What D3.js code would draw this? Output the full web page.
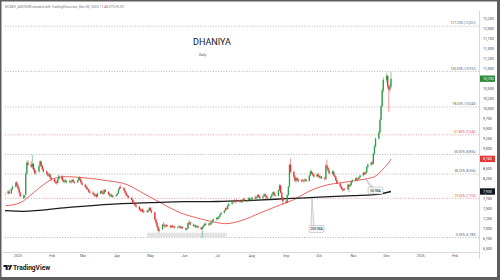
<!DOCTYPE html>
<html>
<head>
<meta charset="utf-8">
<script src="https://cdn.jsdelivr.net/npm/d3@7"></script>
<style>
html, body { margin: 0; padding: 0; background: #fff; }
svg { display: block; font-family: Roboto, "Noto Sans", sans-serif; }
</style>
</head>
<body>
<svg id="chart" width="500" height="280"></svg>
<script>
// daily candles: date, open, high, low, close
const candles = [
["2024-12-20",7860,7920,7800,7890],["2024-12-23",7890,7960,7850,7930],["2024-12-24",7930,7980,7860,7880],
["2024-12-26",7880,8020,7870,8000],["2024-12-27",8000,8080,7960,8050],["2024-12-30",8050,8180,8030,8150],
["2024-12-31",8150,8200,8060,8080],["2025-01-01",8080,8120,7980,8000],["2025-01-02",8000,8040,7880,7900],
["2025-01-03",7900,7930,7790,7810],["2025-01-06",7810,7860,7740,7780],["2025-01-07",7780,7850,7760,7830],
["2025-01-08",7850,8420,7840,8380],["2025-01-09",8380,8700,8350,8650],["2025-01-10",8650,8720,8560,8600],
["2025-01-13",8600,8690,8520,8550],["2025-01-14",8550,8850,8500,8620],["2025-01-15",8620,8640,8450,8480],
["2025-01-16",8480,8520,8360,8400],["2025-01-17",8400,8460,8340,8430],["2025-01-20",8430,8600,8400,8560],
["2025-01-21",8560,8720,8540,8680],["2025-01-22",8680,8700,8560,8580],["2025-01-23",8580,8600,8460,8490],
["2025-01-24",8490,8520,8400,8430],["2025-01-27",8430,8460,8340,8380],["2025-01-28",8380,8420,8300,8330],
["2025-01-29",8330,8400,8290,8360],["2025-01-30",8360,8380,8250,8280],["2025-01-31",8280,8310,8200,8230],
["2025-02-03",8230,8270,8150,8180],["2025-02-04",8180,8230,8120,8160],["2025-02-05",8160,8200,8100,8140],
["2025-02-06",8140,8260,8130,8240],["2025-02-07",8240,8360,8220,8320],["2025-02-10",8320,8340,8200,8220],
["2025-02-11",8220,8260,8150,8180],["2025-02-12",8180,8230,8140,8200],["2025-02-13",8200,8240,8150,8170],
["2025-02-14",8170,8220,8130,8190],["2025-02-17",8190,8230,8140,8160],["2025-02-18",8160,8210,8120,8180],
["2025-02-19",8180,8240,8160,8220],["2025-02-20",8220,8250,8150,8170],["2025-02-21",8170,8200,8120,8150],
["2025-02-24",8150,8230,8140,8210],["2025-02-25",8210,8300,8190,8280],["2025-02-26",8280,8310,8200,8230],
["2025-02-27",8230,8250,8130,8150],["2025-02-28",8150,8180,8080,8100],["2025-03-03",8100,8130,8020,8050],
["2025-03-04",8050,8080,7980,8010],["2025-03-05",8010,8060,7960,7980],["2025-03-06",7980,8000,7900,7930],
["2025-03-07",7930,7960,7860,7900],["2025-03-10",7900,7940,7840,7870],["2025-03-11",7870,7900,7800,7830],
["2025-03-12",7830,7880,7790,7850],["2025-03-13",7850,7870,7780,7800],["2025-03-14",7800,7900,7790,7880],
["2025-03-17",7880,7960,7860,7940],["2025-03-18",7940,7980,7880,7900],["2025-03-19",7900,7930,7840,7870],
["2025-03-20",7870,7990,7860,7970],["2025-03-21",7970,8000,7900,7920],["2025-03-24",7920,7940,7840,7860],
["2025-03-25",7860,7890,7800,7830],["2025-03-26",7830,7880,7790,7850],["2025-03-27",7850,7870,7780,7800],
["2025-03-28",7800,7840,7770,7820],["2025-03-31",7820,7860,7790,7840],["2025-04-01",7840,7900,7820,7880],
["2025-04-02",7880,8000,7870,7980],["2025-04-03",7980,8060,7960,8040],["2025-04-04",8040,8100,8000,8020],
["2025-04-07",8020,8040,7940,7960],["2025-04-08",7960,7990,7880,7900],["2025-04-09",7900,7930,7820,7840],
["2025-04-10",7840,7880,7790,7810],["2025-04-11",7810,7840,7750,7770],["2025-04-14",7770,7800,7700,7720],
["2025-04-15",7720,7750,7640,7660],["2025-04-16",7660,7700,7600,7630],["2025-04-17",7630,7660,7560,7580],
["2025-04-18",7580,7620,7520,7550],["2025-04-21",7550,7570,7460,7480],["2025-04-22",7480,7520,7420,7450],
["2025-04-23",7450,7500,7410,7480],["2025-04-24",7480,7510,7400,7420],["2025-04-25",7420,7460,7380,7440],
["2025-04-28",7440,7480,7390,7420],["2025-04-29",7420,7470,7400,7460],["2025-04-30",7460,7540,7440,7520],
["2025-05-01",7520,7550,7430,7450],["2025-05-02",7450,7480,7380,7410],["2025-05-05",7410,7420,7200,7230],
["2025-05-06",7230,7260,7120,7150],["2025-05-07",7150,7170,7020,7050],["2025-05-08",7050,7080,6920,6950],
["2025-05-09",6950,7010,6900,6980],["2025-05-12",6980,7120,6970,7100],["2025-05-13",7100,7170,7060,7080],
["2025-05-14",7080,7120,7020,7060],["2025-05-15",7060,7110,7030,7090],["2025-05-16",7090,7120,7040,7060],
["2025-05-19",7060,7100,7010,7040],["2025-05-20",7040,7090,7010,7070],["2025-05-21",7070,7100,7020,7040],
["2025-05-22",7040,7080,7000,7050],["2025-05-23",7050,7080,7010,7030],["2025-05-26",7030,7070,6990,7050],
["2025-05-27",7050,7090,7020,7060],["2025-05-28",7060,7080,7000,7020],["2025-05-29",7020,7060,6990,7040],
["2025-05-30",7040,7070,7000,7010],["2025-06-02",7010,7030,6960,6980],["2025-06-03",6980,7020,6950,7000],
["2025-06-04",7000,7160,6990,7140],["2025-06-05",7140,7220,7100,7160],["2025-06-06",7160,7180,7080,7100],
["2025-06-09",7100,7130,7050,7070],["2025-06-10",7070,7110,7030,7080],["2025-06-11",7080,7100,7020,7040],
["2025-06-12",7040,7080,7010,7060],["2025-06-13",7060,7090,7010,7030],["2025-06-16",7030,7050,6970,6990],
["2025-06-17",6990,7060,6780,7040],["2025-06-18",7040,7100,7010,7080],["2025-06-19",7080,7140,7050,7120],
["2025-06-20",7120,7160,7070,7100],["2025-06-23",7100,7150,7060,7130],["2025-06-24",7130,7170,7080,7110],
["2025-06-25",7110,7160,7090,7150],["2025-06-26",7150,7220,7130,7200],["2025-06-27",7200,7260,7180,7240],
["2025-06-30",7240,7290,7200,7270],["2025-07-01",7270,7310,7220,7250],["2025-07-02",7250,7320,7240,7300],
["2025-07-03",7300,7380,7290,7360],["2025-07-04",7360,7420,7340,7400],["2025-07-07",7400,7470,7380,7450],
["2025-07-08",7450,7530,7430,7510],["2025-07-09",7510,7550,7460,7490],["2025-07-10",7490,7600,7480,7580],
["2025-07-11",7580,7640,7550,7620],["2025-07-14",7620,7680,7590,7660],["2025-07-15",7660,7720,7630,7690],
["2025-07-16",7690,7740,7650,7670],["2025-07-17",7670,7710,7630,7700],["2025-07-18",7700,7750,7660,7680],
["2025-07-21",7680,7720,7640,7710],["2025-07-22",7710,7740,7650,7670],["2025-07-23",7670,7700,7630,7690],
["2025-07-24",7690,7760,7670,7740],["2025-07-25",7740,7770,7680,7700],["2025-07-28",7700,7730,7660,7720],
["2025-07-29",7720,7780,7700,7760],["2025-07-30",7760,7790,7700,7720],["2025-07-31",7720,7750,7680,7730],
["2025-08-01",7730,7800,7710,7780],["2025-08-04",7780,7830,7740,7760],["2025-08-05",7760,7800,7720,7790],
["2025-08-06",7790,7860,7770,7840],["2025-08-07",7840,7870,7770,7800],["2025-08-08",7800,7830,7740,7770],
["2025-08-11",7770,7820,7750,7810],["2025-08-12",7810,7880,7790,7860],["2025-08-13",7860,7890,7800,7820],
["2025-08-14",7820,7850,7750,7780],["2025-08-15",7780,7810,7730,7760],["2025-08-18",7760,7820,7740,7800],
["2025-08-19",7800,7880,7780,7860],["2025-08-20",7860,7930,7840,7910],["2025-08-21",7910,7940,7820,7840],
["2025-08-22",7840,7880,7790,7820],["2025-08-25",7820,7980,7810,7960],["2025-08-26",7960,8120,7940,8080],
["2025-08-27",8080,8100,7880,7900],["2025-08-28",7900,7920,7750,7780],["2025-08-29",7780,7800,7600,7680],
["2025-09-01",7680,7720,7620,7650],["2025-09-02",7650,7860,7640,7840],["2025-09-03",7840,8070,7820,8050],
["2025-09-04",8050,8620,8040,8600],["2025-09-05",8600,8760,8380,8420],["2025-09-08",8420,8450,8250,8300],
["2025-09-09",8300,8340,8160,8200],["2025-09-10",8200,8290,8150,8260],["2025-09-11",8260,8300,8180,8220],
["2025-09-12",8220,8260,8160,8190],["2025-09-15",8190,8240,8150,8210],["2025-09-16",8210,8250,8170,8190],
["2025-09-17",8190,8230,8150,8200],["2025-09-18",8200,8260,8170,8230],["2025-09-19",8230,8250,8170,8190],
["2025-09-22",8190,8350,8180,8330],["2025-09-23",8330,8480,8310,8430],["2025-09-24",8430,8460,8360,8380],
["2025-09-25",8380,8420,8320,8350],["2025-09-26",8350,8390,8280,8300],["2025-09-29",8300,8380,8290,8360],
["2025-09-30",8360,8400,8300,8320],["2025-10-01",8320,8340,8260,8280],["2025-10-02",8280,8330,8250,8300],
["2025-10-03",8300,8320,8240,8260],["2025-10-06",8260,8300,8200,8240],["2025-10-07",8240,8620,8230,8580],
["2025-10-08",8580,8730,8480,8520],["2025-10-09",8520,8550,8420,8450],["2025-10-10",8450,8480,8360,8380],
["2025-10-13",8380,8460,8350,8430],["2025-10-14",8430,8450,8310,8330],["2025-10-15",8330,8380,8280,8300],
["2025-10-16",8300,8320,8190,8210],["2025-10-17",8210,8230,8110,8130],["2025-10-20",8130,8150,8040,8060],
["2025-10-21",8060,8080,7980,8000],["2025-10-22",8000,8040,7930,7970],["2025-10-23",7970,8010,7940,7990],
["2025-10-24",7990,8020,7950,7980],["2025-10-27",7980,8120,7970,8100],["2025-10-28",8100,8130,7920,8060],
["2025-10-29",8060,8120,8040,8090],["2025-10-30",8090,8200,8080,8180],["2025-10-31",8180,8240,8150,8210],
["2025-11-03",8210,8280,8190,8260],["2025-11-04",8260,8300,8200,8230],["2025-11-05",8230,8270,8180,8250],
["2025-11-06",8250,8310,8230,8290],["2025-11-07",8290,8350,8260,8330],["2025-11-10",8330,8420,8310,8400],
["2025-11-11",8400,8430,8340,8370],["2025-11-12",8370,8420,8350,8400],["2025-11-13",8400,8560,8390,8540],
["2025-11-14",8540,8640,8510,8600],["2025-11-17",8600,8680,8560,8650],["2025-11-18",8650,8700,8590,8620],
["2025-11-19",8620,8900,8610,8870],["2025-11-20",8870,9100,8850,9050],["2025-11-21",9050,9280,9030,9250],
["2025-11-24",9250,9450,9230,9400],["2025-11-25",9400,9760,9380,9720],["2025-11-26",9720,10100,9700,10060],
["2025-11-27",10060,10500,10040,10450],["2025-11-28",10450,10780,10400,10720],["2025-12-01",10720,10900,10650,10820],
["2025-12-02",10820,10840,10500,10560],["2025-12-03",10560,10600,9920,10480],["2025-12-04",10480,10620,10420,10550],
["2025-12-05",10550,10932,10520,10750]
];

// moving averages
const ma50 = [
["2024-12-21",7575],["2025-01-03",7650],["2025-01-15",7900],["2025-01-24",8100],["2025-02-02",8250],
["2025-02-14",8300],["2025-03-01",8275],["2025-03-23",8200],["2025-04-10",8100],["2025-04-22",7925],
["2025-05-10",7650],["2025-05-28",7400],["2025-06-15",7250],["2025-07-01",7150],["2025-07-08",7125],
["2025-07-22",7200],["2025-08-09",7400],["2025-08-27",7600],["2025-09-08",7725],["2025-09-21",7925],
["2025-10-09",8100],["2025-10-21",8150],["2025-11-08",8225],["2025-11-20",8300],["2025-11-29",8525],
["2025-12-03",8650],["2025-12-05",8745]
];
const ma200 = [
["2024-12-20",7450],["2025-01-06",7435],["2025-02-14",7525],["2025-04-05",7625],["2025-05-01",7650],
["2025-06-01",7675],["2025-07-01",7680],["2025-08-01",7710],["2025-09-01",7750],["2025-10-01",7790],
["2025-11-01",7825],["2025-11-20",7850],["2025-12-05",7930]
];

// fibonacci retracement drawn between the swing low and the swing high
const fibLow = 6780;
const fibHigh = 10932;
const fibRatios = [0, 0.236, 0.382, 0.5, 0.618, 0.786, 1, 1.272];
const fibRedRatios = [0.236, 0.618];

// shaded support zone under the June low
const zone = {from: "2025-04-28", to: "2025-07-09", lo: 6790, hi: 6900};

const priceTicks = d3.range(6500, 12251, 250);
const monthTicks = d3.timeMonth.range(new Date(2025, 0, 1), new Date(2026, 1, 2));

const parse = d3.timeParse("%Y-%m-%d");
const fmt = d3.format(",.0f");

const svg = d3.select("#chart");
const W = 500, H = 280;
const plotL = 5, plotR = 479, plotT = 11, plotB = 252;

// outer frame
svg.append("rect").attr("width", W).attr("height", H).attr("fill", "#5d5d5d");
svg.append("rect").attr("x", 1.5).attr("y", 1.5).attr("width", W - 4.5).attr("height", H - 4.5).attr("fill", "#fff");

const x = d3.scaleTime().domain([new Date(2025, 0, 1), new Date(2026, 1, 1)]).range([18, 455]);
const y = d3.scaleLinear().domain([6500, 12250]).range([248.7, 18.7]);

svg.append("defs").append("clipPath").attr("id", "plot")
    .append("rect").attr("x", plotL).attr("y", plotT).attr("width", plotR - plotL).attr("height", plotB - plotT);

// header
svg.append("text").attr("x", 5).attr("y", 7.5).attr("font-size", 3.4).attr("fill", "#777")
    .text("NCDEX_ADVISOR created with TradingView.com, Dec 05, 2025 11:48 UTC+5:30");

// axes separators
svg.append("line").attr("x1", plotR + 0.5).attr("x2", plotR + 0.5).attr("y1", plotT).attr("y2", 259)
    .attr("stroke", "#cfcfcf").attr("stroke-width", 0.8);
svg.append("line").attr("x1", 1.5).attr("x2", plotR + 0.5).attr("y1", plotB + 0.5).attr("y2", plotB + 0.5)
    .attr("stroke", "#cfcfcf").attr("stroke-width", 0.8);

const plot = svg.append("g").attr("clip-path", "url(#plot)");

// title
svg.append("text").attr("x", 212).attr("y", 45).attr("text-anchor", "middle")
    .attr("font-size", 9).attr("fill", "#131722").text("DHANIYA");
svg.append("text").attr("x", 199).attr("y", 55.5).attr("font-size", 3.4).attr("fill", "#555").text("Daily");

// support zone
plot.append("rect")
    .attr("x", x(parse(zone.from))).attr("width", x(parse(zone.to)) - x(parse(zone.from)))
    .attr("y", y(zone.hi)).attr("height", y(zone.lo) - y(zone.hi))
    .attr("fill", "#dcdcdc").attr("opacity", 0.8);

// fib levels
const fibs = fibRatios.map(r => ({r, v: fibLow + r * (fibHigh - fibLow)}));
plot.selectAll(".fib").data(fibs).join("line")
    .attr("x1", plotL).attr("x2", plotR)
    .attr("y1", d => y(d.v)).attr("y2", d => y(d.v))
    .attr("stroke", d => fibRedRatios.includes(d.r) ? "#e57373" : "#9a9a9a")
    .attr("stroke-width", 0.7).attr("stroke-dasharray", "1,1.6");
svg.selectAll(".fibLabel").data(fibs).join("text")
    .attr("x", 476).attr("y", d => y(d.v) - 1.8).attr("text-anchor", "end")
    .attr("font-size", 3.3)
    .attr("fill", d => fibRedRatios.includes(d.r) ? "#e05555" : "#666")
    .text(d => `${(d.r * 100).toFixed(2)}% (${fmt(d.v)})`);

// moving averages
const line = d3.line().x(d => x(parse(d[0]))).y(d => y(d[1])).curve(d3.curveMonotoneX);
plot.append("path").attr("d", line(ma50)).attr("fill", "none").attr("stroke", "#e53935").attr("stroke-width", 0.8);
plot.append("path").attr("d", line(ma200)).attr("fill", "none").attr("stroke", "#1c1c1c").attr("stroke-width", 1.3);

// candles
const up = "#2f9e44", down = "#e03131";
const bars = plot.selectAll(".c").data(candles).join("g");
bars.append("line")
    .attr("x1", d => x(parse(d[0]))).attr("x2", d => x(parse(d[0])))
    .attr("y1", d => y(d[2])).attr("y2", d => y(d[3]))
    .attr("stroke", d => d[4] >= d[1] ? up : down).attr("stroke-width", 0.5);
bars.append("rect")
    .attr("x", d => x(parse(d[0])) - 0.65).attr("width", 1.3)
    .attr("y", d => y(Math.max(d[1], d[4])))
    .attr("height", d => Math.max(0.5, Math.abs(y(d[1]) - y(d[4]))))
    .attr("fill", d => d[4] >= d[1] ? up : down);

// callouts
function callout(tip, bx, by, bw, label) {
  svg.append("path")
    .attr("d", `M${tip[0]},${tip[1]} L${bx + 2},${by} L${bx + 5},${by} Z`)
    .attr("fill", "#f2f2f2").attr("stroke", "#888").attr("stroke-width", 0.4);
  svg.append("rect").attr("x", bx).attr("y", by).attr("width", bw).attr("height", 7).attr("rx", 1.2)
    .attr("fill", "#f4f4f4").attr("stroke", "#999").attr("stroke-width", 0.4);
  svg.append("text").attr("x", bx + bw / 2).attr("y", by + 4.9).attr("text-anchor", "middle")
    .attr("font-size", 3.6).attr("fill", "#222").text(label);
}
callout([366, y(8240)], 368, 187, 15, "50 MA");
callout([312, y(7768)], 309, 225.5, 15, "200 MA");

// price axis labels with tags
const last = candles[candles.length - 1];
const tags = [
  {v: last[4], fill: "#2e8b3e"},
  {v: ma50[ma50.length - 1][1], fill: "#e53935"},
  {v: ma200[ma200.length - 1][1], fill: "#131722"}
];
svg.selectAll(".pt").data(priceTicks.filter(p => tags.every(t => Math.abs(y(p) - y(t.v)) > 5)))
  .join("text")
  .attr("x", 483).attr("y", d => y(d) + 1.3).attr("font-size", 3.6).attr("fill", "#444")
  .text(d => fmt(d));
tags.forEach(t => {
  svg.append("rect").attr("x", 480).attr("y", y(t.v) - 3.2).attr("width", 15).attr("height", 6.4)
    .attr("fill", t.fill);
  svg.append("text").attr("x", 483).attr("y", y(t.v) + 1.3).attr("font-size", 3.6).attr("fill", "#fff")
    .text(fmt(t.v));
});

// time axis labels
svg.selectAll(".mt").data(monthTicks).join("text")
  .attr("x", d => x(d)).attr("y", 257).attr("text-anchor", "middle")
  .attr("font-size", 3.5).attr("fill", "#555")
  .text(d => d.getMonth() === 0 ? d3.timeFormat("%Y")(d) : d3.timeFormat("%b")(d));

// TradingView logo
const logo = svg.append("g").attr("fill", "#131722");
logo.append("path").attr("d", "M3.5,265 h4.2 v5 h-2 v-3 h-2.2 z");
logo.append("circle").attr("cx", 8.9).attr("cy", 266).attr("r", 0.9);
logo.append("path").attr("d", "M8.2,270 L10.3,265 L12.2,265 L10.1,270 z");
svg.append("text").attr("x", 13).attr("y", 269.8).attr("font-size", 6.6).attr("font-weight", 700)
  .attr("fill", "#131722").text("TradingView");
</script>
</body>
</html>
